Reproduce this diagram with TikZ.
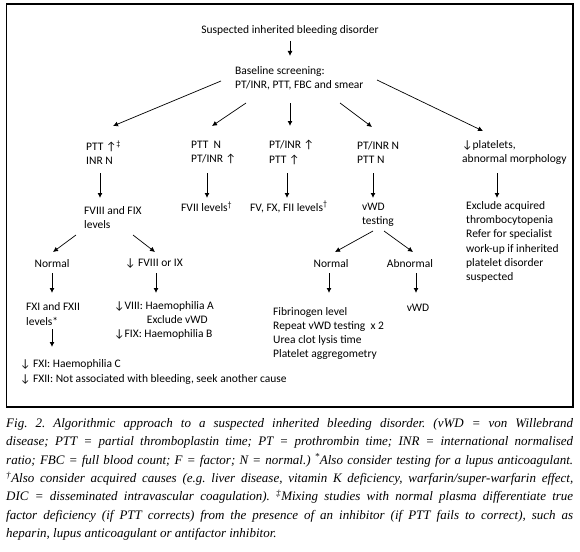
\documentclass[tikz,border=0pt]{standalone}
\usepackage{fontspec}
\setmainfont{Carlito}
\newfontfamily\capfont{Liberation Serif}
\usetikzlibrary{arrows.meta}
\newcommand{\upa}{↑}
\newcommand{\dna}{↓}
\begin{document}
\begin{tikzpicture}[x=1pt,y=-1pt,
  txt/.style={inner sep=0pt,font=\fontsize{11.5}{14.2}\selectfont,align=left},
  arr/.style={line width=0.9pt,-{Latex[length=5pt,width=5pt]}},
  darr/.style={line width=0.7pt,-{Latex[length=5pt,width=5pt]}}]
\useasboundingbox (0,0) rectangle (580,551);
\draw[line width=1.2pt] (6.5,4) rectangle (573,407);
\node[txt] (t) at (290,30) {Suspected inherited bleeding disorder};
\node[txt,anchor=west] (b) at (235,78.5) {Baseline screening:\\PT/INR, PTT, FBC and smear};
% row 2
\node[txt,anchor=west] (p1) at (86,152.5) {PTT \upa\textsuperscript{‡}\\INR N};
\node[txt,anchor=west] (p2) at (191,152.5) {PTT\ \ N\\PT/INR \upa};
\node[txt,anchor=west] (p3) at (269,152.5) {PT/INR \upa\\PTT \upa};
\node[txt,anchor=west] (p4) at (357,152.5) {PT/INR N\\PTT N};
\node[txt,anchor=west] (p5) at (462,152.5) {\dna platelets,\\abnormal morphology};
% row 3
\node[txt,anchor=west] (f1) at (84,217.5) {FVIII and FIX\\levels};
\node[txt,anchor=west] (f2) at (181,207) {FVII levels\textsuperscript{†}};
\node[txt,anchor=west] (f3) at (250,207) {FV, FX, FII levels\textsuperscript{†}};
\node[txt,anchor=west] (f4) at (362,214.5) {vWD\\testing};
\node[txt,anchor=west] (f5) at (466,242) {Exclude acquired\\thrombocytopenia\\Refer for specialist\\work-up if inherited\\platelet disorder\\suspected};
% row 4
\node[txt] (n1) at (52,264) {Normal};
\node[txt] (d1) at (154,264) {\dna\ FVIII or IX};
\node[txt] (vn) at (331,264) {Normal};
\node[txt] (va) at (410,264) {Abnormal};
% row 5
\node[txt,anchor=west] (x1) at (26,314) {FXI and FXII\\levels*};
\node[txt,anchor=west] (h1) at (114,320.5) {\dna VIII: Haemophilia A\\\hspace*{2.85em}Exclude vWD\\\dna FIX: Haemophilia B};
\node[txt] (vr) at (418,308) {vWD};
\node[txt,anchor=west] (fr) at (273,333.5) {Fibrinogen level\\Repeat vWD testing\ \ x 2\\Urea clot lysis time\\Platelet aggregometry};
% row 6
\node[txt,anchor=west] (r6) at (20,372) {\dna\ FXI: Haemophilia C\\\dna\ FXII: Not associated with bleeding, seek another cause};
% arrows
\draw[arr] ([yshift=-11pt]t.center) -- ([xshift=55pt,yshift=22.5pt]b.west);
\draw[darr] ([xshift=-14pt,yshift=-2.5pt]b.west) -- ([xshift=27pt,yshift=26.5pt]p1.west);
\draw[darr] ([xshift=11pt,yshift=-24.5pt]b.west) -- ([xshift=21pt,yshift=26.5pt]p2.west);
\draw[arr] ([xshift=55pt,yshift=-24.5pt]b.west) -- ([xshift=21pt,yshift=26.5pt]p3.west);
\draw[darr] ([xshift=105pt,yshift=-24.5pt]b.west) -- ([xshift=15pt,yshift=25.5pt]p4.west);
\draw[darr] ([xshift=142pt,yshift=-1.5pt]b.west) -- ([xshift=21pt,yshift=21.5pt]p5.west);
\draw[arr] ([xshift=14pt,yshift=-20.5pt]p1.west) -- ([xshift=16pt,yshift=19.5pt]f1.west);
\draw[arr] ([xshift=16pt,yshift=-20.5pt]p2.west) -- ([xshift=26pt,yshift=9pt]f2.west);
\draw[arr] ([xshift=18pt,yshift=-20.5pt]p3.west) -- ([xshift=37pt,yshift=9pt]f3.west);
\draw[arr] ([xshift=16pt,yshift=-20.5pt]p4.west) -- ([xshift=11pt,yshift=16.5pt]f4.west);
\draw[arr] ([xshift=35pt,yshift=-20.5pt]p5.west) -- ([xshift=31pt,yshift=44pt]f5.west);
\draw[darr] ([xshift=-8pt,yshift=-17.5pt]f1.west) -- ([xshift=1pt,yshift=12pt]n1.center);
\draw[darr] ([xshift=49pt,yshift=-17.5pt]f1.west) -- ([xshift=1pt,yshift=12pt]d1.center);
\draw[darr] ([xshift=11pt,yshift=-16.5pt]f4.west) -- ([xshift=4pt,yshift=12pt]vn.center);
\draw[darr] ([xshift=22pt,yshift=-16.5pt]f4.west) -- ([xshift=3pt,yshift=12pt]va.center);
\draw[arr] ([yshift=-9pt]n1.center) -- ([xshift=26pt,yshift=21pt]x1.west);
\draw[arr] ([xshift=2pt,yshift=-9pt]d1.center) -- ([xshift=42pt,yshift=27.5pt]h1.west);
\draw[arr] ([xshift=-2pt,yshift=-9pt]vn.center) -- ([xshift=56pt,yshift=40.5pt]fr.west);
\draw[arr] ([xshift=6pt,yshift=-9pt]va.center) -- ([xshift=-2pt,yshift=15pt]vr.center);
\draw[arr] ([xshift=26pt,yshift=-15pt]x1.west) -- ([xshift=32pt,yshift=25pt]r6.west);
% caption
\node[anchor=north west,inner sep=0pt,text width=567pt,align=justify,
  font=\capfont\itshape\fontsize{13}{18.4}\selectfont\frenchspacing] (cap) at (6,418)
{Fig. 2. Algorithmic approach to a suspected inherited bleeding disorder. (vWD = von Willebrand\linebreak
disease; PTT = partial thromboplastin time; PT = prothrombin time; INR = international normalised\linebreak
ratio; FBC = full blood count; F = factor; N = normal.) \textsuperscript{*}Also consider testing for a lupus anticoagulant.\linebreak
\textsuperscript{†}Also consider acquired causes (e.g. liver disease, vitamin K deficiency, warfarin/super-warfarin effect,\linebreak
DIC = disseminated intravascular coagulation). \textsuperscript{‡}Mixing studies with normal plasma differentiate true\linebreak
factor deficiency (if PTT corrects) from the presence of an inhibitor (if PTT fails to correct), such as\linebreak
heparin, lupus anticoagulant or antifactor inhibitor.};
\end{tikzpicture}
\end{document}
